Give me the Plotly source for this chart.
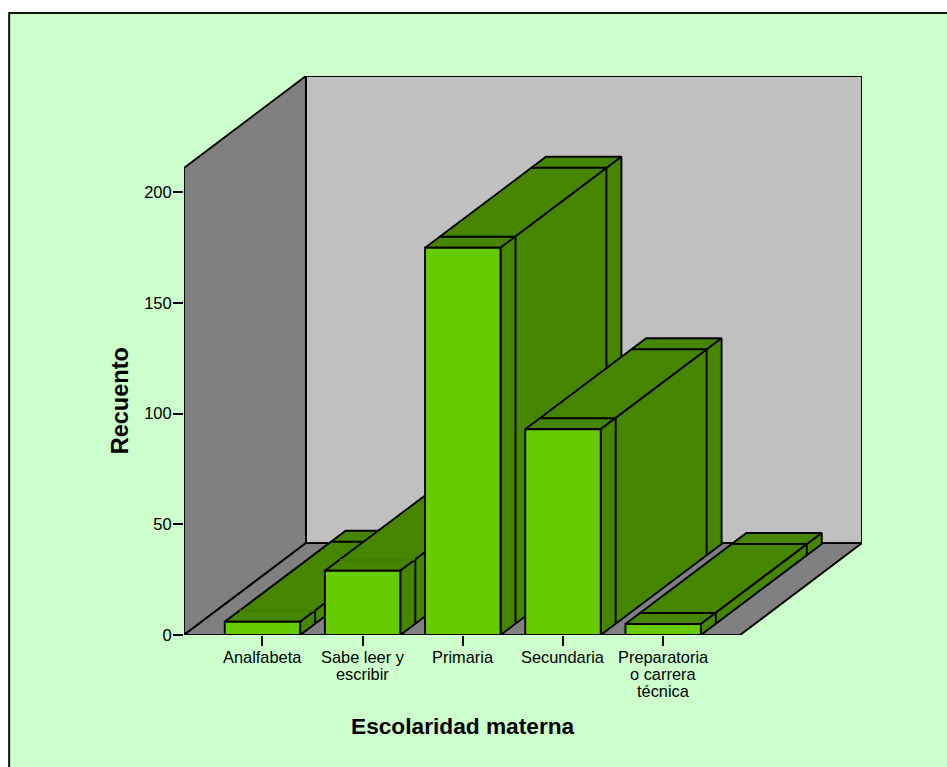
import plotly.graph_objects as go

# Data
categories = [["Analfabeta"], ["Sabe leer y", "escribir"], ["Primaria"], ["Secundaria"],
              ["Preparatoria", "o carrera", "técnica"]]
counts = [6, 29, 175, 93, 5]
y_ticks = [0, 50, 100, 150, 200]
near_edge_colors = ["#3f7d00", "#3f7d00", "black", "black", "black"]

# Style
BG = "#CCFFCC"
FRONT = "#66CC00"
DARK = "#458500"
WALL = "#808080"
BACK = "#C0C0C0"
FONT = "Liberation Sans"
LW = 1.9

# Canvas geometry (pixels)
W, H = 947, 767
PL, PR, PT, PB = 184, 862.5, 75.5, 635
PX_CAT = 100.25
PX_VAL = 2.215
CAT0 = 262.5
DX, DY = 122 / PX_CAT, 92 / PX_VAL          # chart depth in data units
BAR_W = 75.5 / PX_CAT
SEG = [(15 / PX_CAT, 11 / PX_VAL), (106 / PX_CAT, 80 / PX_VAL)]
BAR_DX, BAR_DY = 121 / PX_CAT, 91 / PX_VAL
x_left = (PL - CAT0) / PX_CAT
x_right = (PR - CAT0) / PX_CAT
y_top = (PB - PT) / PX_VAL
y_axis_top = y_top - DY

fig = go.Figure()


def poly(xs, ys, fill=None, color="black", width=LW):
    fig.add_trace(go.Scatter(
        x=xs, y=ys, mode="lines", hoverinfo="skip", showlegend=False,
        fill="toself" if fill else None, fillcolor=fill,
        line=dict(color=color, width=width, simplify=False)))


x_front_right = x_right - DX
# walls and floor
poly([x_left + DX, x_right, x_right, x_left + DX, x_left + DX],
     [DY, DY, y_top, y_top, DY], BACK)
poly([x_left, x_left + DX, x_left + DX, x_left, x_left],
     [0, DY, y_top, y_axis_top, 0], WALL)
poly([x_left, x_front_right, x_right, x_left + DX, x_left],
     [0, 0, DY, DY, 0], WALL)

# bars, left to right so that each hides the one before it
for i, v in enumerate(counts):
    L, R = i - BAR_W / 2, i + BAR_W / 2
    poly([L, R, R + BAR_DX, L + BAR_DX, L], [v, v, v + BAR_DY, v + BAR_DY, v], DARK)
    poly([R, R + BAR_DX, R + BAR_DX, R, R], [0, BAR_DY, v + BAR_DY, v, 0], DARK)
    (d1x, d1y), (d2x, d2y) = SEG
    poly([L + d1x, R + d1x], [v + d1y, v + d1y], color=near_edge_colors[i])
    poly([R + d1x, R + d1x], [v + d1y, d1y])
    poly([L + d2x, R + d2x, R + d2x], [v + d2y, v + d2y, d2y])
    poly([L, R, R, L, L], [0, 0, v, v, 0], FRONT)

annotations = []
for i, lines in enumerate(categories):
    for j, line in enumerate(lines):
        annotations.append(dict(
            x=i, y=0, xref="x", yref="y", text=line, showarrow=False,
            yanchor="top", xanchor="center", yshift=-(11 + 17.0 * j),
            font=dict(family=FONT, size=16.4, color="black")))
annotations.append(dict(
    x=(463 - PL) / (PR - PL), y=-(726 - PB) / (PB - PT), xref="paper", yref="paper",
    text="<b>Escolaridad materna</b>", showarrow=False, xanchor="center", yanchor="middle",
    font=dict(family=FONT, size=22.7, color="black")))
annotations.append(dict(
    x=(120 - PL) / (PR - PL), y=(PB - 401) / (PB - PT), xref="paper", yref="paper",
    text="<b>Recuento</b>", showarrow=False, textangle=-90, xanchor="center", yanchor="middle",
    font=dict(family=FONT, size=23.5, color="black")))

frame = dict(
    type="rect", xref="paper", yref="paper", layer="below",
    x0=(9 - PL) / (PR - PL), x1=(W + 20 - PL) / (PR - PL),
    y0=-(H + 20 - PB) / (PB - PT), y1=(PB - 12.5) / (PB - PT),
    fillcolor=BG, line=dict(color="#111111", width=2))

fig.update_layout(
    width=W, height=H,
    margin=dict(l=PL, r=W - PR, t=PT, b=H - PB, pad=0, autoexpand=False),
    paper_bgcolor="white", plot_bgcolor="rgba(0,0,0,0)",
    shapes=[frame], annotations=annotations, showlegend=False,
    font=dict(family=FONT, color="black"),
    xaxis=dict(range=[x_left, x_right], tickmode="array", tickvals=list(range(len(categories))),
               showticklabels=False, ticks="outside", ticklen=10, tickwidth=LW, tickcolor="black",
               showgrid=False, zeroline=False, showline=False, fixedrange=True),
    yaxis=dict(range=[0, y_top], tickmode="array", tickvals=y_ticks,
               ticks="outside", ticklen=10, tickwidth=LW, tickcolor="black", ticklabelstandoff=-2,
               tickfont=dict(family=FONT, size=16.5, color="black"), showgrid=False,
               zeroline=False, showline=False, fixedrange=True),
)
fig.write_html("out.html", config=dict(displayModeBar=False),
               post_script="document.body.style.margin='0';document.body.style.overflow='hidden';")
